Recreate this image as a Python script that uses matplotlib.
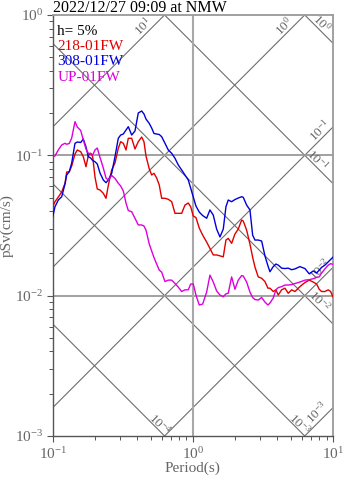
import numpy as np
import matplotlib
matplotlib.use("Agg")
import matplotlib.pyplot as plt
from matplotlib.ticker import LogLocator, NullFormatter

plt.rcParams["font.family"] = ["Liberation Serif", "DejaVu Serif"]
plt.rcParams["mathtext.fontset"] = "custom"
plt.rcParams["mathtext.rm"] = "Liberation Serif"
plt.rcParams["mathtext.it"] = "Liberation Serif:italic"
plt.rcParams["mathtext.bf"] = "Liberation Serif:bold"

# Response spectra (h = 5%), pseudo-velocity in cm/s
period = [0.1000, 0.1038, 0.1096, 0.1159, 0.1224, 0.1258, 0.1313, 0.1366, 0.1442, 0.1498,
          0.1584, 0.1653, 0.1728, 0.1795, 0.1866, 0.1929, 0.2003, 0.2080, 0.2175, 0.2296,
          0.2400, 0.2492, 0.2635, 0.2782, 0.2937, 0.3055, 0.3189, 0.3334, 0.3462, 0.3660,
          0.3864, 0.4079, 0.4313, 0.4479, 0.4629, 0.4887, 0.5082, 0.5278, 0.5517, 0.5757,
          0.5990, 0.6324, 0.6677, 0.7062, 0.7455, 0.7870, 0.8321, 0.8785, 0.9273, 0.9646,
          1.007, 1.052, 1.111, 1.175, 1.254, 1.324, 1.398, 1.478, 1.561, 1.648,
          1.722, 1.788, 1.891, 1.997, 2.108, 2.229, 2.288, 2.419, 2.555, 2.670,
          2.773, 2.927, 3.095, 3.268, 3.434, 3.548, 3.746, 3.915, 4.066, 4.299,
          4.539, 4.792, 5.067, 5.349, 5.805, 6.303, 6.765, 7.226, 7.638, 7.972,
          8.293, 8.753, 9.243, 9.614, 10.0]

sv_218 = [0.0430, 0.0467, 0.0504, 0.0548, 0.0632, 0.0760, 0.0764, 0.0839, 0.1021, 0.1091,
          0.1061, 0.0977, 0.0829, 0.0997, 0.1033, 0.0977, 0.0700, 0.0575, 0.0566, 0.0536,
          0.0494, 0.0609, 0.0786, 0.0881, 0.1122, 0.1250, 0.1218, 0.1091, 0.1322, 0.1322,
          0.1109, 0.1250, 0.1350, 0.1250, 0.0989, 0.0799, 0.0724, 0.0744, 0.0689, 0.0614,
          0.0494, 0.0494, 0.0486, 0.0467, 0.0386, 0.0386, 0.0386, 0.0442, 0.0457, 0.0430,
          0.0369, 0.0360, 0.0303, 0.0270, 0.0241, 0.0217, 0.0195, 0.0195, 0.0192, 0.0189,
          0.0249, 0.0256, 0.0236, 0.0275, 0.0298, 0.0346, 0.0340, 0.0293, 0.0233, 0.0188,
          0.0160, 0.0136, 0.0133, 0.0126, 0.0113, 0.0113, 0.0107, 0.0110, 0.0101, 0.0110,
          0.0113, 0.0104, 0.0110, 0.0107, 0.0116, 0.0124, 0.0129, 0.0125, 0.0121, 0.0111,
          0.0107, 0.0107, 0.0110, 0.0107, 0.00977]

sv_308 = [0.0365, 0.0430, 0.0480, 0.0507, 0.0624, 0.0724, 0.0764, 0.0881, 0.1218, 0.1244,
          0.1234, 0.1307, 0.1146, 0.0977, 0.0957, 0.0918, 0.0900, 0.0867, 0.0748, 0.0667,
          0.0638, 0.0667, 0.0744, 0.0977, 0.1322, 0.1395, 0.1418, 0.1514, 0.1599, 0.1395,
          0.1490, 0.2002, 0.2069, 0.1970, 0.1814, 0.1685, 0.1565, 0.1430, 0.1418, 0.1407,
          0.1357, 0.1218, 0.1091, 0.1033, 0.0952, 0.0853, 0.0786, 0.0724, 0.0667, 0.0584,
          0.0504, 0.0435, 0.0394, 0.0372, 0.0356, 0.0408, 0.0375, 0.0298, 0.0262, 0.0298,
          0.0430, 0.0480, 0.0467, 0.0484, 0.0496, 0.0507, 0.0502, 0.0442, 0.0408, 0.0270,
          0.0249, 0.0249, 0.0245, 0.0192, 0.0163, 0.0148, 0.0161, 0.0168, 0.0165, 0.0157,
          0.0156, 0.0157, 0.0153, 0.0155, 0.0161, 0.0156, 0.0143, 0.0150, 0.0145, 0.0152,
          0.0159, 0.0165, 0.0174, 0.0181, 0.0188]

sv_up = [0.0977, 0.0989, 0.1091, 0.1184, 0.1218, 0.1198, 0.1214, 0.1328, 0.1736, 0.1591,
         0.1502, 0.1285, 0.1109, 0.1033, 0.1030, 0.1005, 0.1091, 0.1127, 0.0965, 0.0812,
         0.0689, 0.0667, 0.0718, 0.0685, 0.0632, 0.0604, 0.0557, 0.0457, 0.0404, 0.0396,
         0.0356, 0.0319, 0.0319, 0.0313, 0.0293, 0.0233, 0.0208, 0.0187, 0.0168, 0.0152,
         0.0147, 0.0126, 0.0129, 0.0129, 0.0122, 0.0115, 0.0107, 0.0110, 0.0110, 0.0121,
         0.0121, 0.0101, 0.00857, 0.00871, 0.0106, 0.0140, 0.0125, 0.0108, 0.0101, 0.00982,
         0.0103, 0.0104, 0.0136, 0.0111, 0.0129, 0.0139, 0.0138, 0.0125, 0.0106, 0.00970,
         0.00938, 0.00930, 0.00970, 0.00900, 0.00857, 0.00886, 0.00962, 0.0110, 0.0114, 0.0116,
         0.0119, 0.0119, 0.0120, 0.0122, 0.0125, 0.0129, 0.0130, 0.0132, 0.0135, 0.0136,
         0.0145, 0.0155, 0.0165, 0.0169, 0.0167]

series_names = ["218-01FW", "308-01FW", "UP-01FW"]
series_colors = ["#e00000", "#0000dd", "#dd00dd"]
title = "2022/12/27 09:09 at NMW"

# Tripartite guide lines: constant acceleration (cm/s^2) and displacement (cm)
accel_levels = [1e-3, 1e-2, 1e-1, 1e0, 1e1]
disp_levels = [1e-4, 1e-3, 1e-2, 1e-1, 1e0]

GRAY = "#666666"

fig = plt.figure(figsize=(3.47, 4.78), dpi=100)
ax = fig.add_axes([0.1519, 0.0879, 0.8078, 0.8808])
ax.set_xscale("log")
ax.set_yscale("log")
ax.set_xlim(0.1, 10)
ax.set_ylim(1e-3, 1)

tt = np.array([0.1, 10.0])
for a in accel_levels:
    ax.plot(tt, a * tt / (2 * np.pi), color="#6e6e6e", lw=0.8, zorder=1)
for d in disp_levels:
    ax.plot(tt, 2 * np.pi * d / tt, color="#6e6e6e", lw=0.8, zorder=1)

for yv in (1e-2, 1e-1):
    ax.axhline(yv, color="#9a9a9a", lw=1.3, zorder=1)
ax.axvline(1.0, color="#a8a8a8", lw=1.5, zorder=1)

# guide-line labels: (value, kind, period where placed, offset)
def exp_label(v):
    return r"$10^{%d}$" % int(round(np.log10(v)))

guide_labels = [
    (1e1, "a", 0.445, 10),
    (1e0, "a", 4.50, 9),
    (1e0, "d", 8.34, 9),
    (1e-1, "a", 8.05, 10),
    (1e-1, "d", 7.80, 8.5),
    (1e-2, "a", 8.05, 11),
    (1e-2, "d", 8.05, 10),
    (1e-4, "d", 0.582, 7),
    (1e-3, "d", 5.81, 7),
    (1e-3, "a", 7.67, 11),
]
for v, kind, tp, up in guide_labels:
    if kind == "a":
        yv = v * tp / (2 * np.pi)
        rot = 45
    else:
        yv = 2 * np.pi * v / tp
        rot = -45
    ax.annotate(exp_label(v), xy=(tp, yv), xytext=(0, up * 0.72),
                textcoords="offset points", ha="center", va="center",
                rotation=rot, rotation_mode="anchor", fontsize=9.5,
                color=GRAY, zorder=2)

for sv, name, col in zip([sv_218, sv_308, sv_up], series_names, series_colors):
    ax.plot(period, sv, color=col, lw=1.0, zorder=3)

# annotation block
ax.text(0.016, 0.975, "h= 5%", transform=ax.transAxes, color="black",
        fontsize=11, va="top", ha="left")
for i, (name, col) in enumerate(zip(series_names, series_colors)):
    ax.text(0.016, 0.94 - 0.036 * i, name, transform=ax.transAxes, color=col,
            fontsize=11, va="top", ha="left")

ax.annotate(title, xy=(0, 1), xycoords="axes fraction", xytext=(0, 1.8),
            textcoords="offset points", ha="left", va="baseline",
            fontsize=11.5, color="black")

for side in ("top", "right"):
    ax.spines[side].set_color("#9a9a9a")
    ax.spines[side].set_linewidth(1.3)
for side in ("left", "bottom"):
    ax.spines[side].set_color("#555555")
    ax.spines[side].set_linewidth(1.0)

ax.xaxis.set_major_locator(LogLocator(base=10, numticks=10))
ax.yaxis.set_major_locator(LogLocator(base=10, numticks=10))
ax.xaxis.set_minor_locator(LogLocator(base=10, subs=np.arange(2, 10), numticks=20))
ax.yaxis.set_minor_locator(LogLocator(base=10, subs=np.arange(2, 10), numticks=20))
ax.xaxis.set_minor_formatter(NullFormatter())
ax.yaxis.set_minor_formatter(NullFormatter())
ax.tick_params(which="major", direction="out", length=4.5, width=0.8,
               color="#555555", labelcolor=GRAY, labelsize=11, pad=2.5)
ax.tick_params(which="minor", direction="out", length=3, width=0.7,
               color="#555555")
ax.tick_params(top=False, right=False, which="both")

ax.set_xlabel("Period(s)", fontsize=11, color=GRAY, labelpad=0)
ax.set_ylabel("pSv(cm/s)", fontsize=11, color=GRAY, labelpad=1)

fig.savefig("out.png", dpi=100)
